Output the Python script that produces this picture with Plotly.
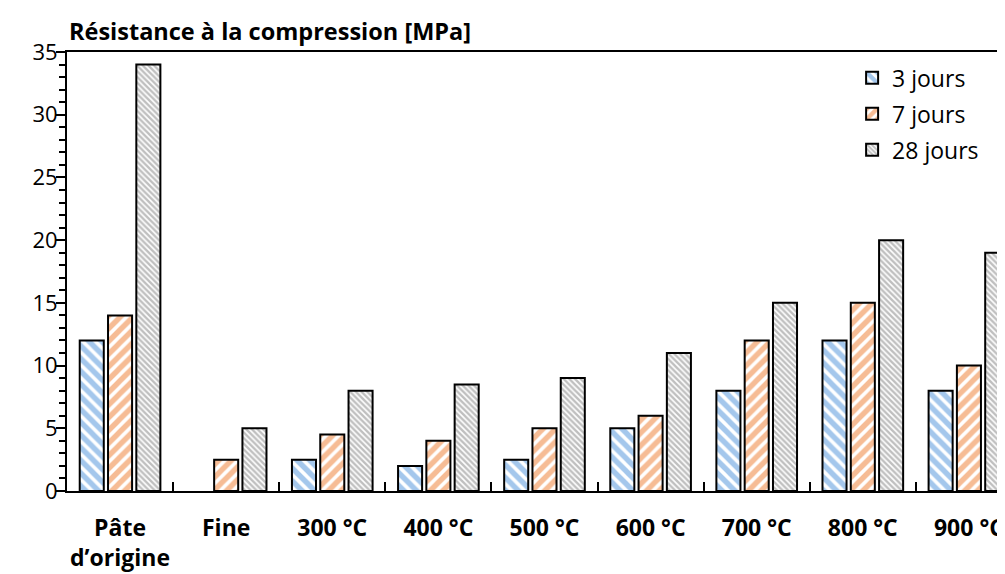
import plotly.graph_objects as go

categories = ["Pâte<br>d’origine", "Fine", "300 °C", "400 °C", "500 °C",
              "600 °C", "700 °C", "800 °C", "900 °C"]
series_names = ["3 jours", "7 jours", "28 jours"]
jours3 = [12, None, 2.5, 2, 2.5, 5, 8, 12, 8]
jours7 = [14, 2.5, 4.5, 4, 5, 6, 12, 15, 10]
jours28 = [34, 5, 8, 8.5, 9, 11, 15, 20, 19]
y_ticks = [0, 5, 10, 15, 20, 25, 30, 35]
title_text = "Résistance à la compression [MPa]"

FONT = "Open Sans"
styles = [
    dict(shape="\\", fg="#4A90D9", size=9, sol=0.6),
    dict(shape="/", fg="#EE7A2C", size=9, sol=0.6),
    dict(shape="\\", fg="#808080", size=4, sol=0.6),
]

fig = go.Figure()
for i, (name, vals) in enumerate(zip(series_names, [jours3, jours7, jours28])):
    s = styles[i]
    fig.add_trace(go.Bar(
        x=categories, y=vals, name=name, legendgroup=name,
        marker=dict(
            color="white",
            line=dict(color="black", width=2),
            pattern=dict(shape=s["shape"], fgcolor=s["fg"], bgcolor="white",
                         size=s["size"], solidity=s["sol"], fillmode="overlay"),
        ),
    ))

# page body has an 8px default margin, so the figure is offset by 8px
fig.update_layout(
    width=997, height=566,
    margin=dict(l=59, r=0, t=44, b=83, autoexpand=False),
    paper_bgcolor="white", plot_bgcolor="white",
    barmode="group", bargap=0.2, bargroupgap=0.15,
    font=dict(family=FONT, color="black", size=20),
    showlegend=True,
    legend=dict(x=0.837, y=0.99, xanchor="left", yanchor="top",
                font=dict(size=23, family=FONT), bgcolor="rgba(0,0,0,0)",
                traceorder="grouped", tracegroupgap=3, itemwidth=30),
    annotations=[dict(text="<b>" + title_text + "</b>", xref="paper", yref="paper",
                      x=0, y=1, xanchor="left", yanchor="bottom", yshift=3,
                      showarrow=False, font=dict(size=23.5, family=FONT))],
)
fig.update_xaxes(
    type="category", range=[-0.5, 8.34],
    showline=True, linecolor="black", linewidth=2, mirror=True,
    ticks="inside", ticklen=9, tickwidth=1.5, tickcolor="black",
    tickson="boundaries", ticklabelstandoff=15, tickangle=0, automargin=False,
    tickfont=dict(size=23, family=FONT, weight="bold"),
    showgrid=False, zeroline=False,
)
fig.update_yaxes(
    range=[0, 35], tickvals=y_ticks, automargin=False,
    showline=True, linecolor="black", linewidth=2,
    ticks="outside", ticklen=9, tickwidth=1.5, tickcolor="black",
    minor=dict(ticks="outside", ticklen=6, tickwidth=1.5, tickcolor="black", dtick=1),
    ticklabelstandoff=-6,
    tickfont=dict(size=22, family=FONT),
    showgrid=False, zeroline=False,
)

fig.write_html("out.html")
